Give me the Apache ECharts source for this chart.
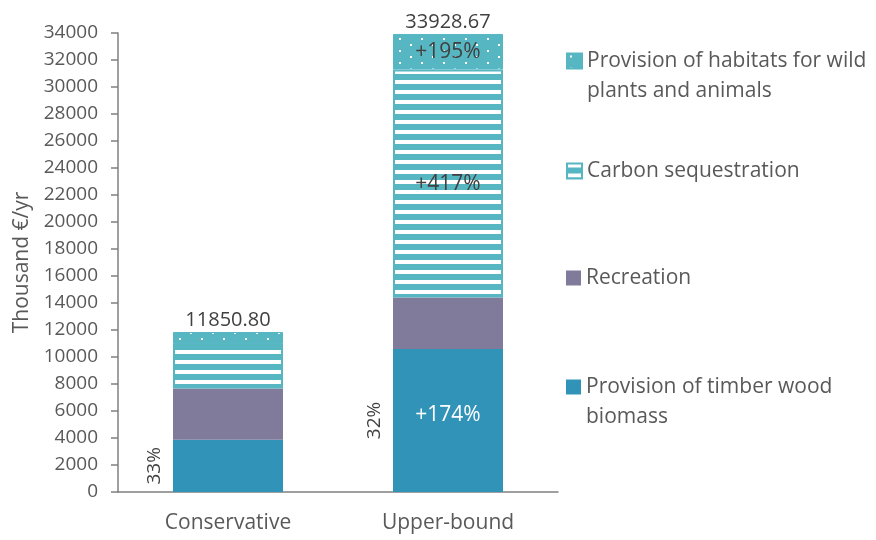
<!DOCTYPE html>
<html>
<head>
<meta charset="utf-8">
<script src="https://cdn.jsdelivr.net/npm/echarts@6/dist/echarts.min.js"></script>
<style>html,body{margin:0;padding:0;background:#fff}#c{width:876px;height:540px}</style>
</head>
<body>
<div id="c"></div>
<script>
const categories = ['Conservative', 'Upper-bound'];
const timber = [3870, 10600];
const recreation = [3800, 3800];
const carbon = [3290, 16900];
const habitats = [890.8, 2628.67];
const shareLabels = ['33%', '32%'];
const timberChange = ['', '+174%'];
const carbonChange = ['', '+417%'];
const habitatsChange = ['', '+195%'];
const seriesNames = ['Provision of timber wood biomass', 'Recreation', 'Carbon sequestration', 'Provision of habitats for wild plants and animals'];
const legendLabels = ['\nProvision of timber wood\nbiomass', 'Recreation', 'Carbon sequestration', '\nProvision of habitats for wild\nplants and animals'];
const yTicks = {min: 0, max: 34000, interval: 2000};

const FONT = 'Open Sans';
const TEAL = '#56b7c3';
const BLUE = '#3193b8';
const PURPLE = '#807a9b';

function stripes() {
  const c = document.createElement('canvas');
  c.width = 10; c.height = 10;
  const g = c.getContext('2d');
  g.fillStyle = TEAL; g.fillRect(0, 0, 10, 10);
  g.fillStyle = '#ffffff'; g.fillRect(0, 0, 10, 4);
  return c;
}
function dots() {
  const c = document.createElement('canvas');
  c.width = 22; c.height = 12;
  const g = c.getContext('2d');
  g.fillStyle = TEAL; g.fillRect(0, 0, 22, 12);
  g.fillStyle = '#ffffff';
  g.fillRect(3, 2, 2, 2);
  g.fillRect(14, 8, 2, 2);
  return c;
}
const stripePat = {image: stripes(), repeat: 'repeat'};
const dotPat = {image: dots(), repeat: 'repeat'};

const totals = categories.map((_, i) => timber[i] + recreation[i] + carbon[i] + habitats[i]);

function withLabels(vals, labels, color) {
  return vals.map((v, i) => labels[i] ? {value: v, label: {show: true, formatter: labels[i], color: color}} : v);
}

const baseLabel = {show: false, position: 'inside', fontFamily: FONT, fontSize: 21, color: '#404040'};

const chart = echarts.init(document.getElementById('c'), null, {renderer: 'canvas'});

function legendFor(name, top) {
  return {
    data: [name], left: 566, top: top, padding: 0, itemGap: 0,
    itemWidth: 15, itemHeight: 15, icon: 'rect',
    formatter: n => legendLabels[seriesNames.indexOf(n)],
    selectedMode: false,
    textStyle: {fontFamily: FONT, fontSize: 21, color: '#595959', lineHeight: 30}
  };
}

chart.setOption({
  animation: false,
  grid: {left: 118, right: 318, top: 33, bottom: 48},
  legend: [
    legendFor(seriesNames[3], 16),
    legendFor(seriesNames[2], 156),
    legendFor(seriesNames[1], 263),
    legendFor(seriesNames[0], 342)
  ],
  xAxis: {
    type: 'category', data: categories,
    axisLine: {lineStyle: {color: '#808080', width: 1.5}},
    axisTick: {show: false},
    axisLabel: {fontFamily: FONT, fontSize: 21, color: '#595959', margin: 21}
  },
  yAxis: {
    type: 'value', min: yTicks.min, max: yTicks.max, interval: yTicks.interval,
    name: 'Thousand €/yr', nameLocation: 'middle', nameGap: 84,
    nameTextStyle: {fontFamily: FONT, fontSize: 21, color: '#595959'},
    axisLine: {show: true, lineStyle: {color: '#808080', width: 1.5}},
    axisTick: {show: true, length: 7, lineStyle: {color: '#808080', width: 1.5}},
    splitLine: {show: false},
    axisLabel: {fontFamily: FONT, fontSize: 19, color: '#595959', margin: 20,
                formatter: v => String(v)}
  },
  series: [
    {name: seriesNames[0], type: 'bar', stack: 'main', barWidth: '50%', barGap: '-100%',
     itemStyle: {color: BLUE},
     label: Object.assign({}, baseLabel, {offset: [0, -5]}),
     data: withLabels(timber, timberChange, '#ffffff')},
    {name: seriesNames[1], type: 'bar', stack: 'main', barWidth: '50%', barGap: '-100%',
     itemStyle: {color: PURPLE},
     data: recreation},
    {name: seriesNames[2], type: 'bar', stack: 'main', barWidth: '50%', barGap: '-100%',
     itemStyle: {color: stripePat, borderColor: TEAL, borderWidth: 2},
     label: Object.assign({}, baseLabel),
     data: withLabels(carbon, carbonChange, '#404040')},
    {name: seriesNames[3], type: 'bar', stack: 'main', barWidth: '50%', barGap: '-100%',
     itemStyle: {color: dotPat, borderColor: TEAL, borderWidth: 1},
     label: Object.assign({}, baseLabel),
     data: withLabels(habitats, habitatsChange, '#404040')},
    {name: 'share', type: 'bar', barWidth: '50%', barGap: '-100%', silent: true, z: 5,
     itemStyle: {color: 'rgba(0,0,0,0)'},
     label: {show: true, position: [-18, '50%'], rotate: 90, align: 'center', verticalAlign: 'middle',
             fontFamily: FONT, fontSize: 19, color: '#404040',
             formatter: p => shareLabels[p.dataIndex]},
     data: timber},
    {name: 'total', type: 'bar', barWidth: '50%', barGap: '-100%', silent: true, z: 5,
     itemStyle: {color: 'rgba(0,0,0,0)'},
     label: {show: true, position: 'top', distance: 2, fontFamily: FONT, fontSize: 20, color: '#404040',
             formatter: p => p.value.toFixed(2)},
     data: totals}
  ]
});
</script>
</body>
</html>
